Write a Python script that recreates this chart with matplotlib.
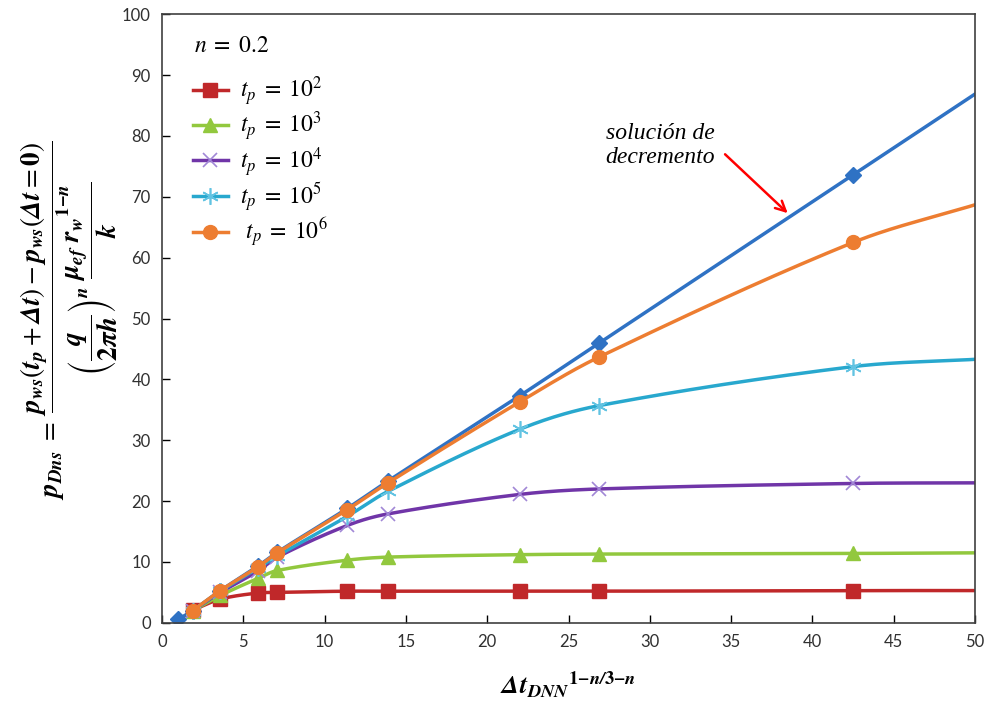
import matplotlib
matplotlib.use('Agg')
import matplotlib.pyplot as plt
import numpy as np

plt.rcParams['mathtext.fontset'] = 'stix'
plt.rcParams['font.family'] = ['Lato', 'DejaVu Sans']

# data
x_dec = [1.0, 1.9, 3.6, 5.9, 7.1, 11.4, 13.9, 22.0, 26.9, 42.5, 50.0]
y_dec = [0.6, 2.0, 5.3, 9.3, 11.6, 18.8, 23.3, 37.3, 46.0, 73.6, 86.9]

x_tp = [1.9, 3.6, 5.9, 7.1, 11.4, 13.9, 22.0, 26.9, 42.5, 50.0]
y_tp2 = [2.1, 3.9, 4.9, 5.0, 5.2, 5.2, 5.2, 5.2, 5.3, 5.3]
y_tp3 = [2.0, 4.5, 7.3, 8.6, 10.3, 10.8, 11.2, 11.3, 11.4, 11.5]
y_tp4 = [2.0, 5.0, 8.5, 10.8, 16.0, 17.9, 21.1, 22.0, 22.9, 23.0]
y_tp5 = [2.0, 5.2, 9.0, 11.0, 17.5, 21.6, 31.8, 35.7, 42.1, 43.3]
y_tp6 = [2.0, 5.3, 9.2, 11.5, 18.6, 23.0, 36.3, 43.7, 62.5, 68.7]

labels = [r'$t_p \;=\; 10^2$', r'$t_p \;=\; 10^3$', r'$t_p \;=\; 10^4$',
          r'$t_p \;=\; 10^5$', r'$\ t_p \;=\; 10^6$']


def smooth(x, y, n=40, sx=16.26, sy=6.09):
    # bezier smoothing similar to excel's "smoothed line", computed in screen proportions
    p = np.column_stack([np.asarray(x, float) * sx, np.asarray(y, float) * sy])
    m = len(p)
    tang = np.empty_like(p)
    for i in range(m):
        a = p[max(i - 1, 0)]
        b = p[min(i + 1, m - 1)]
        v = b - a
        tang[i] = v / np.hypot(*v)
    xs, ys = [], []
    t = np.linspace(0, 1, n)[:, None]
    for i in range(m - 1):
        p1, p2 = p[i], p[i + 1]
        d = np.hypot(*(p2 - p1)) / 3
        c1 = p1 + tang[i] * d
        c2 = p2 - tang[i + 1] * d
        pts = (1 - t) ** 3 * p1 + 3 * (1 - t) ** 2 * t * c1 + 3 * (1 - t) * t ** 2 * c2 + t ** 3 * p2
        xs.extend(pts[:, 0] / sx)
        ys.extend(pts[:, 1] / sy)
    return xs, ys


fig = plt.figure(figsize=(9.87, 7.11), dpi=100)
ax = fig.add_axes([0.164, 0.124, 0.824, 0.856])

lw = 2.5
series = [
    (x_dec, y_dec, '#2F72C4', 'D', '#2F72C4', 8, 1, None),
    (x_tp, y_tp2, '#C0282A', 's', '#C0282A', 10, 1, labels[0]),
    (x_tp, y_tp3, '#92C83E', '^', '#92C83E', 10, 1, labels[1]),
    (x_tp, y_tp4, '#7035A8', 'x', '#A187D6', 10, 1.2, labels[2]),
    (x_tp, y_tp5, '#28A8CE', (6, 2, 0), '#62C3E2', 12, 1.2, labels[3]),
    (x_tp, y_tp6, '#ED7D31', 'o', '#ED7D31', 10, 1, labels[4]),
]

handles = []
for xs, ys, col, mk, mcol, ms, mew, lab in series:
    sx, sy = smooth(xs, ys)
    ax.plot(sx, sy, color=col, lw=lw, solid_capstyle='round')
    ax.plot(xs[:-1], ys[:-1], ls='none', marker=mk, color=mcol, ms=ms, mew=mew)
    if lab:
        h, = ax.plot([], [], color=col, lw=lw, marker=mk, mfc=mcol, mec=mcol, ms=ms, mew=mew, label=lab)
        handles.append(h)

ax.set_xlim(0, 50)
ax.set_ylim(0, 100)
ax.set_xticks(np.arange(0, 51, 5))
ax.set_yticks(np.arange(0, 101, 10))
ax.tick_params(direction='in', length=6, width=1, labelsize=12, labelcolor='#303030', pad=8)
for s in ax.spines.values():
    s.set_color('#404040')
    s.set_linewidth(1.2)

ax.text(2.0, 94.9, r'$n \;=\; 0.2$', fontsize=17, va='center', ha='left')
ax.legend(handles=handles, loc='upper left', bbox_to_anchor=(0.027, 0.916), frameon=False,
          fontsize=17, handlelength=1.45, labelspacing=0.08, handletextpad=0.55, borderaxespad=0)

ax.annotate('', xy=(38.6, 67.0), xytext=(34.5, 77.3),
            arrowprops=dict(arrowstyle='->', color='#FF0000', lw=1.8, mutation_scale=18))
ax.text(34.0, 78.4, 'solución de\ndecremento', fontsize=17, style='italic', family='Liberation Serif',
        ha='right', va='center', linespacing=1.15)

ax.set_xlabel(r'$\mathbfit{\Delta t_{DNN}}^{\mathbf{1}\mathbfit{-n/}\mathbf{3}\mathbfit{-n}}$',
              fontsize=19, labelpad=14)

ylab = (r'$\mathbfit{p_{Dns}} \;=\; \dfrac{\mathbfit{p_{ws}}\left(\mathbfit{t_p}+\mathbfit{\Delta t}\right)'
        r'-\mathbfit{p_{ws}}\left(\mathbfit{\Delta t}=\mathbf{0}\right)}'
        r'{\left(\dfrac{\mathbfit{q}}{\mathbf{2}\mathbfit{\pi h}}\right)^{\mathbfit{n}}\ '
        r'\dfrac{\mathbfit{\mu_{ef}}\ \mathbfit{r_w}^{\mathbf{1}\mathbfit{-n}}}{\mathbfit{k}}}$')
fig.text(0.07, 0.55, ylab, rotation=90, fontsize=19.5, ha='center', va='center')

fig.savefig('out.png', dpi=100)
